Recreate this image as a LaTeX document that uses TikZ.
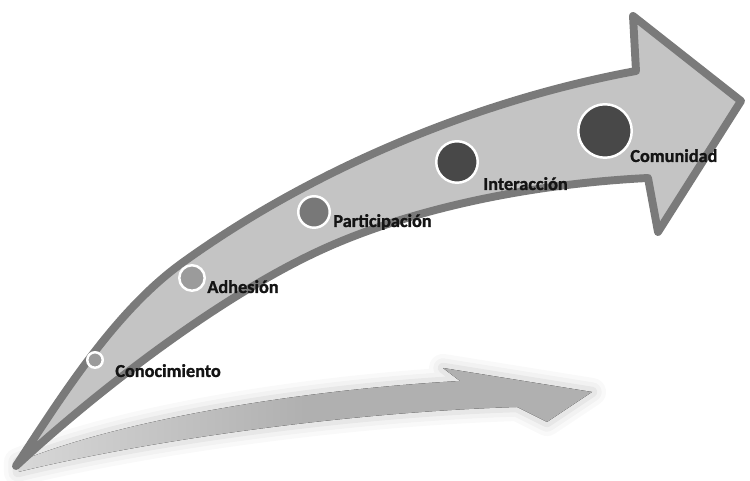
\documentclass[tikz,border=0pt]{standalone}
\usepackage{fontspec}
\setmainfont{Carlito}[BoldFont={Carlito Bold}, BoldFeatures={FakeBold=1.2}]
\usepackage{xcolor}
\definecolor{arrowfill}{RGB}{196,196,196}
\definecolor{arrowline}{RGB}{122,122,122}
\definecolor{stagelight}{RGB}{155,155,155}
\definecolor{stagemid}{RGB}{120,120,120}
\definecolor{stagedark}{RGB}{72,72,72}
\definecolor{shadowgray}{RGB}{176,176,176}
\usepackage{tikz}
\usetikzlibrary{positioning}

\newcommand{\shadowshape}{(0.36,0.38) .. controls (2.40,1.22) and (6.00,1.82) .. (9.20,2.00) -- (8.86,2.26) -- (11.84,1.78) -- (10.94,1.18) -- (10.34,1.48) .. controls (7.00,1.38) and (3.00,0.82) .. (0.36,0.18) -- cycle}

\begin{document}
\begin{tikzpicture}[every node/.style={font=\bfseries\fontsize{10.4}{12}\selectfont, text=black!92}]
  \useasboundingbox (0,0) rectangle (15,9.62);
  % soft shadow under the arrow
  \foreach \w/\o in {16/0.07, 11/0.1, 6/0.16} \draw[shadowgray, line width=\w pt, opacity=\o, line join=round] \shadowshape;
  \fill[left color=shadowgray!50, right color=shadowgray, middle color=shadowgray] \shadowshape;
  % the arrow
  \draw[arrowline, fill=arrowfill, line width=4.5pt, line join=round] (0.32,0.30) .. controls (1.31,1.82) and (2.34,3.42) .. (3.64,4.36) .. controls (6.24,6.24) and (9.56,7.62) .. (12.72,8.20) -- (12.66,9.30) -- (14.82,7.60) -- (13.16,4.98) -- (12.96,6.06) .. controls (10.76,5.95) and (8.43,5.50) .. (6.60,4.70) .. controls (4.40,3.74) and (1.78,1.66) .. (0.32,0.30) -- cycle;
  % stages
  \node[circle, fill=stagelight, draw=white, line width=1.4pt, minimum size=0.31cm, inner sep=0] (cono) at (1.90,2.42) {};
  \node[circle, fill=stagelight, draw=white, line width=1.4pt, minimum size=0.51cm, inner sep=0] (adhe) at (3.84,4.06) {};
  \node[circle, fill=stagemid, draw=white, line width=1.4pt, minimum size=0.63cm, inner sep=0] (parti) at (6.28,5.38) {};
  \node[circle, fill=stagedark, draw=white, line width=1.4pt, minimum size=0.83cm, inner sep=0] (inter) at (9.14,6.38) {};
  \node[circle, fill=stagedark, draw=white, line width=1.4pt, minimum size=1.07cm, inner sep=0] (comu) at (12.10,7.00) {};
  \node[anchor=base west, inner sep=0] (conolbl) at (2.30,2.08) {Conocimiento};
  \node[anchor=base west, inner sep=0] (adhelbl) at (4.14,3.76) {Adhesión};
  \node[anchor=base west, inner sep=0] (partilbl) at (6.66,5.08) {Participación};
  \node[anchor=base west, inner sep=0] (interlbl) at (9.66,5.82) {Interacción};
  \node[anchor=base west, inner sep=0] (comulbl) at (12.60,6.38) {Comunidad};
\end{tikzpicture}
\end{document}
